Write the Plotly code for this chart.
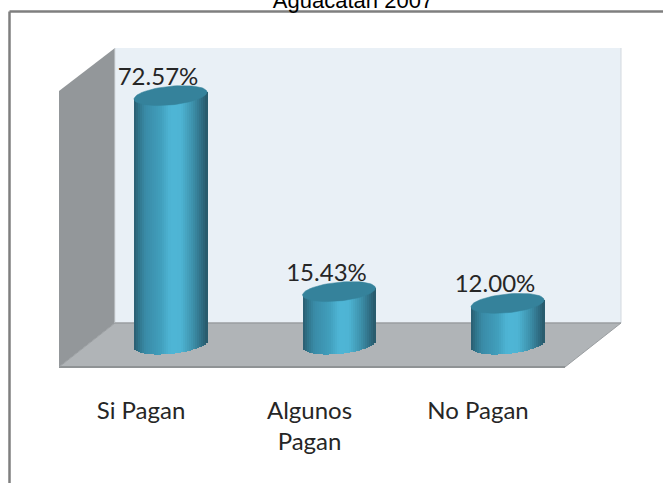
import numpy as np
import plotly.graph_objects as go

categories = ["Si Pagan", "Algunos<br>Pagan", "No Pagan"]
values = [72.57, 15.43, 12.00]
labels = ["72.57%", "15.43%", "12.00%"]
title_text = "Aguacatan 2007"

W, H = 663, 483
PLOT_BOTTOM = 372
BASE_PX, PX_PER_UNIT = 344.5, 3.43
CX0, DX_PX = 170.5, 168.5
A, B, SLOPE = 36.5, 9.4, -0.096
TICK_DX = -29.5

def stop_color(t):
    stops = [(0, (42, 92, 112)), (0.07, (48, 118, 140)), (0.16, (58, 140, 168)), (0.38, (66, 160, 190)),
             (0.50, (79, 182, 214)), (0.64, (78, 180, 212)), (0.80, (62, 146, 172)), (0.92, (48, 112, 134)), (1, (40, 88, 106))]
    ts = [s[0] for s in stops]
    rgb = [np.interp(t, ts, [s[1][k] for s in stops]) for k in range(3)]
    return "rgb(%d,%d,%d)" % tuple(rgb)

def px(v):
    return v / W

def py(v):
    return 1 - v / PLOT_BOTTOM

def poly(pts, fill, line=None, lw=0):
    path = "M" + " L".join(f"{px(x):.5f},{py(y):.5f}" for x, y in pts) + " Z"
    return dict(type="path", xref="paper", yref="paper", path=path, fillcolor=fill,
                line=dict(color=line or fill, width=lw), layer="below")

def seg(x0, y0, x1, y1, color, lw):
    return dict(type="line", xref="paper", yref="paper", x0=px(x0), y0=py(y0), x1=px(x1), y1=py(y1),
                line=dict(color=color, width=lw), layer="below")

shapes = [
    poly([(115, 48), (621, 48), (621, 323), (115, 323)], "#e9f0f6"),
    poly([(59, 91), (115, 48), (115, 323), (59, 367)], "#93979a"),
    poly([(115, 323), (621, 323), (565, 367), (59, 367)], "#b0b4b7"),
    seg(621, 48, 621, 323, "#d3d9df", 1),
    seg(115, 48, 115, 323, "#d5dadf", 1),
    seg(115, 323, 621, 323, "#9a9ea1", 1.5),
    seg(59, 367, 565, 367, "#8f9395", 2),
    seg(621, 323, 565, 367, "#9a9ea1", 1),
    seg(115, 323, 59, 367, "#9a9ea1", 1),
    seg(9.5, 11.5, 9.5, 483, "#7f7f7f", 2.5),
    seg(9.5, 11.5, 663, 11.5, "#7f7f7f", 2.5),
]

fig = go.Figure()
xs = list(range(len(values)))
unit_w = 1 / DX_PX
N = 36
step = 2 * A / N
for j in range(N):
    dx = -A + (j + 0.5) * step
    sag = B * np.sqrt(max(0, 1 - (dx / A) ** 2))
    base = -(SLOPE * dx + sag) / PX_PER_UNIT
    tops = [v - SLOPE * dx / PX_PER_UNIT for v in values]
    fig.add_trace(go.Bar(x=xs, y=[t - base for t in tops], base=[base] * len(values),
                         offset=(dx - step / 2) * unit_w, width=(step + 0.6) * unit_w,
                         marker=dict(color=stop_color((j + 0.5) / N), line=dict(width=0)),
                         hoverinfo="skip", showlegend=False))

# cylinder caps, positioned by each value
ang = np.linspace(0, 2 * np.pi, 73)
for i, v in enumerate(values):
    dx = A * np.cos(ang)
    dy = SLOPE * dx + B * np.sin(ang)
    fig.add_trace(go.Scatter(x=i + dx * unit_w, y=v - dy / PX_PER_UNIT, mode="lines", fill="toself",
                             fillcolor="#35829b", line=dict(color="#35829b", width=0.5),
                             hoverinfo="skip", showlegend=False))

# data labels
LABEL_DX, LABEL_DY = -12.5, 17
fig.add_trace(go.Scatter(x=[i + LABEL_DX * unit_w for i in xs],
                         y=[v + LABEL_DY / PX_PER_UNIT for v in values],
                         mode="text", text=labels, textposition="middle center",
                         textfont=dict(family="Lato, Open Sans, sans-serif", size=24, color="#262626"),
                         hoverinfo="skip", showlegend=False))

fig.update_layout(
    width=W, height=H, margin=dict(l=0, r=0, t=0, b=H - PLOT_BOTTOM, autoexpand=False),
    paper_bgcolor="white", plot_bgcolor="rgba(0,0,0,0)", barmode="overlay", bargap=0,
    shapes=shapes, showlegend=False,
    title=dict(text=title_text, x=(353 / W), xanchor="center", y=0.999, yref="container", yanchor="middle",
               font=dict(family="Liberation Sans, Arial, sans-serif", size=22, color="#000000")),
    xaxis=dict(range=[-CX0 / DX_PX, (W - CX0) / DX_PX], tickmode="array",
               tickvals=[i + TICK_DX * unit_w for i in xs],
               ticktext=categories,
               tickfont=dict(family="Lato, Open Sans, sans-serif", size=24, color="#262626"),
               ticks="outside", ticklen=17, tickcolor="rgba(0,0,0,0)", showgrid=False, zeroline=False,
               showline=False),
    yaxis=dict(range=[(BASE_PX - PLOT_BOTTOM) / PX_PER_UNIT, BASE_PX / PX_PER_UNIT], visible=False),
)
fig.write_html("out.html", config={"displayModeBar": False},
               post_script="document.body.style.margin='0';document.documentElement.style.overflow='hidden';")
